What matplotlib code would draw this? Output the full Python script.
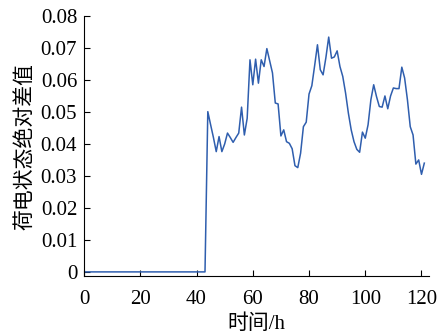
import matplotlib
matplotlib.use('Agg')
import matplotlib.pyplot as plt
from matplotlib.ticker import FuncFormatter

# 时间 (h) 与荷电状态绝对差值
hours = list(range(0, 122))
soc_diff = [0.0] * 44 + [
    0.0501, 0.046, 0.042, 0.0376, 0.0423, 0.0376, 0.040, 0.0434, 0.042, 0.0405,
    0.042, 0.0434, 0.0515, 0.0428, 0.048, 0.0663, 0.0585, 0.0665, 0.059, 0.0663,
    0.0642, 0.0698, 0.066, 0.0622, 0.0528, 0.0525, 0.0425, 0.0444, 0.0407, 0.0402,
    0.0385, 0.0332, 0.0326, 0.0371, 0.0454, 0.0468, 0.0556, 0.0582, 0.0645, 0.071,
    0.0632, 0.0616, 0.067, 0.0734, 0.0668, 0.0672, 0.0691, 0.0642, 0.0611, 0.0559,
    0.0496, 0.0444, 0.0407, 0.0383, 0.0374, 0.0437, 0.0418, 0.046, 0.0538, 0.0585,
    0.0548, 0.0517, 0.0515, 0.055, 0.051, 0.055, 0.0575, 0.0573, 0.0573, 0.064,
    0.0606, 0.0538, 0.0454, 0.0428, 0.0337, 0.035, 0.0305, 0.034,
]
x_ticks = [0, 20, 40, 60, 80, 100, 120]
y_ticks = [0, 0.01, 0.02, 0.03, 0.04, 0.05, 0.06, 0.07, 0.08]

plt.rcParams['font.family'] = ['Liberation Serif', 'Noto Sans CJK SC']
plt.rcParams['font.size'] = 15

fig = plt.figure(figsize=(4.38, 3.33), dpi=100)
ax = fig.add_axes([0.192, 0.171, 0.787, 0.781])

ax.plot(hours, soc_diff, color='#2f5eae', linewidth=1.1)

ax.set_xlim(0, 122.6)
ax.set_ylim(-0.0013, 0.08)
ax.set_xticks(x_ticks)
ax.set_yticks(y_ticks)
ax.yaxis.set_major_formatter(FuncFormatter(lambda v, p: '0' if v == 0 else '%.2f' % v))

ax.spines['top'].set_visible(False)
ax.spines['right'].set_visible(False)
ax.tick_params(direction='in', length=4, width=0.8, labelsize=15)
ax.tick_params(axis='x', pad=10)
ax.tick_params(axis='y', pad=5)

ax.set_xlabel('时间/h', fontsize=15, labelpad=4)
ax.set_ylabel('荷电状态绝对差值', fontsize=15, labelpad=4)

fig.savefig('out.png', dpi=100)
